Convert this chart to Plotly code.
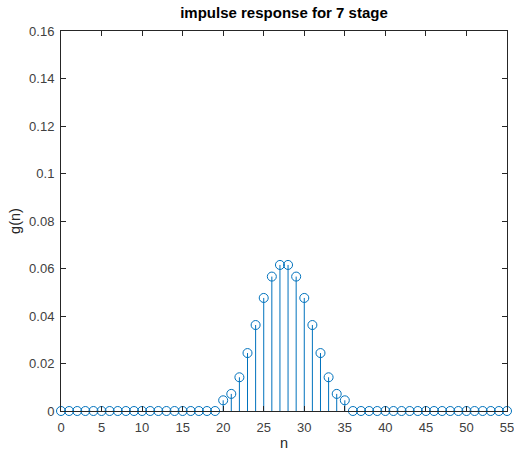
import plotly.graph_objects as go

n = list(range(0, 56))
nonzero_start = 20
nonzero_vals = [0.0045, 0.0072, 0.0142, 0.0244, 0.0362, 0.0476, 0.0566, 0.0615,
                0.0615, 0.0566, 0.0476, 0.0362, 0.0244, 0.0142, 0.0072, 0.0045]
g = [0.0] * 56
for i, v in enumerate(nonzero_vals):
    g[nonzero_start + i] = v

x_ticks = [0, 5, 10, 15, 20, 25, 30, 35, 40, 45, 50, 55]
y_ticks = [0, 0.02, 0.04, 0.06, 0.08, 0.1, 0.12, 0.14, 0.16]
y_ticktext = ["0", "0.02", "0.04", "0.06", "0.08", "0.1", "0.12", "0.14", "0.16"]

color = "#0072BD"
font_family = "Liberation Sans, Arial"

fig = go.Figure()
fig.add_trace(go.Scatter(
    x=n, y=g, mode="markers",
    marker=dict(symbol="circle-open", size=9, color=color, line=dict(width=1, color=color)),
    error_y=dict(type="data", symmetric=False, array=[0] * len(g), arrayminus=g,
                 width=0, thickness=1, color=color),
    cliponaxis=False, showlegend=False,
))

axis_common = dict(
    showline=True, linecolor="#262626", linewidth=1, mirror="ticks",
    ticks="inside", ticklen=5, tickcolor="#262626", showgrid=False, zeroline=False,
    automargin=False, ticklabeloverflow="allow",
    tickfont=dict(family=font_family, size=13, color="#404040"),
)

fig.update_layout(
    width=514, height=458,
    margin=dict(l=61, r=7, t=31, b=47),
    paper_bgcolor="white", plot_bgcolor="white",
    title=dict(text="<b>impulse response for 7 stage</b>", x=0.5525, xanchor="center",
               y=0.972, yanchor="middle",
               font=dict(family=font_family, size=15, color="black")),
    xaxis=dict(range=[0, 55], tickvals=x_ticks, ticktext=[str(t) for t in x_ticks],
               ticklabelstandoff=4,
               title=dict(text="n", standoff=4,
                          font=dict(family=font_family, size=14.5, color="#262626")),
               **axis_common),
    yaxis=dict(range=[0, 0.16], tickvals=y_ticks, ticktext=y_ticktext,
               ticklabelstandoff=3,
               title=dict(text="g(n)", standoff=5,
                          font=dict(family=font_family, size=14.5, color="#262626")),
               **axis_common),
)

fig.write_html("out.html")
